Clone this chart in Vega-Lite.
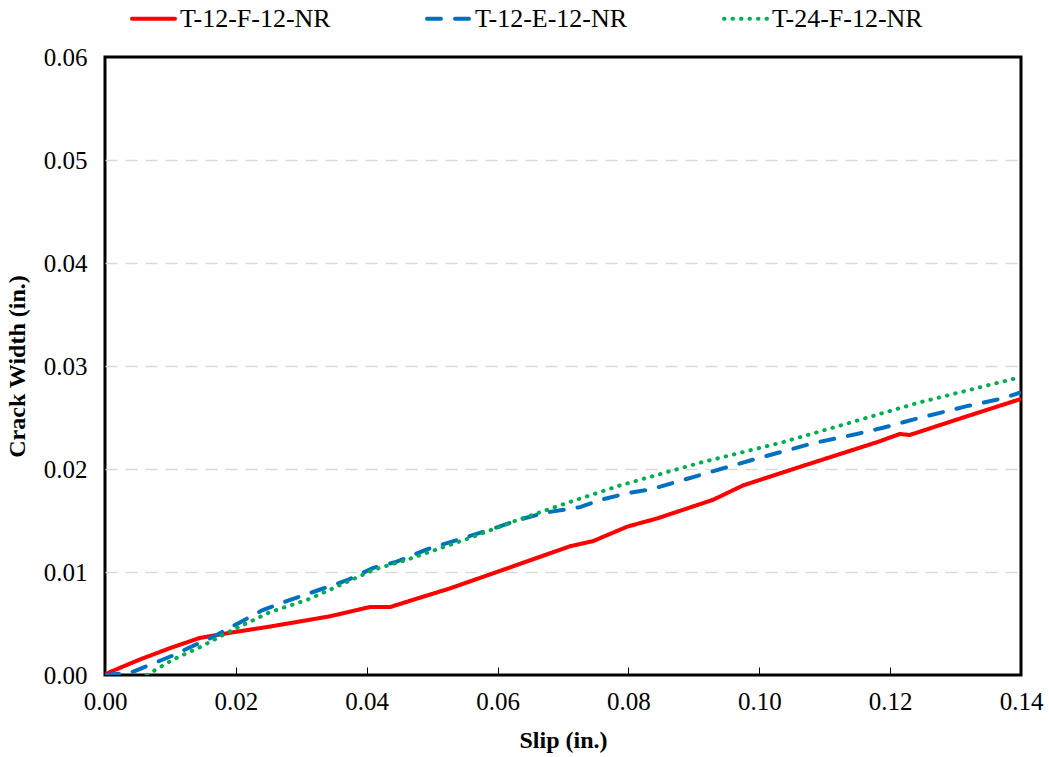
{
  "$schema": "https://vega.github.io/schema/vega-lite/v6.json",
  "autosize": {"type": "none"},
  "width": 916,
  "height": 618,
  "padding": {"left": 105, "top": 57, "right": 28, "bottom": 82},
  "background": "white",
  "config": {
    "font": "Liberation Serif",
    "view": {"stroke": "black", "strokeWidth": 3},
    "axis": {"labelFont": "Liberation Serif", "labelFontSize": 25, "labelColor": "black", "titleFont": "Liberation Serif", "titleFontSize": 24, "titleFontWeight": "bold", "titleColor": "black", "domain": false}
  },
  "data": {"values": [
    {"s": "T-12-F-12-NR", "x": 0, "y": 0},
    {"s": "T-12-F-12-NR", "x": 0.0008, "y": 0.0003},
    {"s": "T-12-F-12-NR", "x": 0.0053, "y": 0.0015},
    {"s": "T-12-F-12-NR", "x": 0.0099, "y": 0.0026},
    {"s": "T-12-F-12-NR", "x": 0.0145, "y": 0.0036},
    {"s": "T-12-F-12-NR", "x": 0.0191, "y": 0.0041},
    {"s": "T-12-F-12-NR", "x": 0.0252, "y": 0.0047},
    {"s": "T-12-F-12-NR", "x": 0.0344, "y": 0.0057},
    {"s": "T-12-F-12-NR", "x": 0.0405, "y": 0.0066},
    {"s": "T-12-F-12-NR", "x": 0.0436, "y": 0.0066},
    {"s": "T-12-F-12-NR", "x": 0.0471, "y": 0.0073},
    {"s": "T-12-F-12-NR", "x": 0.0527, "y": 0.0084},
    {"s": "T-12-F-12-NR", "x": 0.0608, "y": 0.0102},
    {"s": "T-12-F-12-NR", "x": 0.0711, "y": 0.0125},
    {"s": "T-12-F-12-NR", "x": 0.0746, "y": 0.013},
    {"s": "T-12-F-12-NR", "x": 0.0798, "y": 0.0144},
    {"s": "T-12-F-12-NR", "x": 0.0844, "y": 0.0152},
    {"s": "T-12-F-12-NR", "x": 0.0929, "y": 0.017},
    {"s": "T-12-F-12-NR", "x": 0.0975, "y": 0.0184},
    {"s": "T-12-F-12-NR", "x": 0.1062, "y": 0.0202},
    {"s": "T-12-F-12-NR", "x": 0.118, "y": 0.0226},
    {"s": "T-12-F-12-NR", "x": 0.1215, "y": 0.0234},
    {"s": "T-12-F-12-NR", "x": 0.123, "y": 0.0233},
    {"s": "T-12-F-12-NR", "x": 0.1307, "y": 0.0249},
    {"s": "T-12-F-12-NR", "x": 0.14, "y": 0.0268},
    {"s": "T-12-E-12-NR", "x": 0, "y": 0},
    {"s": "T-12-E-12-NR", "x": 0.0038, "y": 0.0002},
    {"s": "T-12-E-12-NR", "x": 0.0069, "y": 0.001},
    {"s": "T-12-E-12-NR", "x": 0.0104, "y": 0.0019},
    {"s": "T-12-E-12-NR", "x": 0.013, "y": 0.0027},
    {"s": "T-12-E-12-NR", "x": 0.0165, "y": 0.0037},
    {"s": "T-12-E-12-NR", "x": 0.0206, "y": 0.0051},
    {"s": "T-12-E-12-NR", "x": 0.0241, "y": 0.0063},
    {"s": "T-12-E-12-NR", "x": 0.0283, "y": 0.0073},
    {"s": "T-12-E-12-NR", "x": 0.0329, "y": 0.0083},
    {"s": "T-12-E-12-NR", "x": 0.037, "y": 0.0092},
    {"s": "T-12-E-12-NR", "x": 0.041, "y": 0.0104},
    {"s": "T-12-E-12-NR", "x": 0.0446, "y": 0.011},
    {"s": "T-12-E-12-NR", "x": 0.0492, "y": 0.0122},
    {"s": "T-12-E-12-NR", "x": 0.0538, "y": 0.0131},
    {"s": "T-12-E-12-NR", "x": 0.0588, "y": 0.0141},
    {"s": "T-12-E-12-NR", "x": 0.0634, "y": 0.0151},
    {"s": "T-12-E-12-NR", "x": 0.0676, "y": 0.0158},
    {"s": "T-12-E-12-NR", "x": 0.0726, "y": 0.0163},
    {"s": "T-12-E-12-NR", "x": 0.0757, "y": 0.017},
    {"s": "T-12-E-12-NR", "x": 0.0802, "y": 0.0177},
    {"s": "T-12-E-12-NR", "x": 0.0833, "y": 0.018},
    {"s": "T-12-E-12-NR", "x": 0.0909, "y": 0.0194},
    {"s": "T-12-E-12-NR", "x": 0.099, "y": 0.0209},
    {"s": "T-12-E-12-NR", "x": 0.1036, "y": 0.0217},
    {"s": "T-12-E-12-NR", "x": 0.1082, "y": 0.0225},
    {"s": "T-12-E-12-NR", "x": 0.1149, "y": 0.0234},
    {"s": "T-12-E-12-NR", "x": 0.1189, "y": 0.024},
    {"s": "T-12-E-12-NR", "x": 0.1241, "y": 0.0249},
    {"s": "T-12-E-12-NR", "x": 0.1317, "y": 0.0261},
    {"s": "T-12-E-12-NR", "x": 0.1368, "y": 0.0268},
    {"s": "T-12-E-12-NR", "x": 0.1398, "y": 0.0274},
    {"s": "T-24-F-12-NR", "x": 0.0064, "y": 0},
    {"s": "T-24-F-12-NR", "x": 0.0104, "y": 0.0015},
    {"s": "T-24-F-12-NR", "x": 0.0145, "y": 0.0027},
    {"s": "T-24-F-12-NR", "x": 0.0196, "y": 0.0044},
    {"s": "T-24-F-12-NR", "x": 0.0252, "y": 0.0061},
    {"s": "T-24-F-12-NR", "x": 0.0309, "y": 0.0073},
    {"s": "T-24-F-12-NR", "x": 0.0348, "y": 0.0084},
    {"s": "T-24-F-12-NR", "x": 0.041, "y": 0.0102},
    {"s": "T-24-F-12-NR", "x": 0.0462, "y": 0.0112},
    {"s": "T-24-F-12-NR", "x": 0.0553, "y": 0.0132},
    {"s": "T-24-F-12-NR", "x": 0.0624, "y": 0.0149},
    {"s": "T-24-F-12-NR", "x": 0.0706, "y": 0.0167},
    {"s": "T-24-F-12-NR", "x": 0.0787, "y": 0.0184},
    {"s": "T-24-F-12-NR", "x": 0.0909, "y": 0.0206},
    {"s": "T-24-F-12-NR", "x": 0.1036, "y": 0.0226},
    {"s": "T-24-F-12-NR", "x": 0.1139, "y": 0.0245},
    {"s": "T-24-F-12-NR", "x": 0.1241, "y": 0.0264},
    {"s": "T-24-F-12-NR", "x": 0.1398, "y": 0.0289}
  ]},
  "mark": {"type": "line", "strokeWidth": 4, "strokeCap": "round", "clip": true},
  "encoding": {
    "x": {"field": "x", "type": "quantitative", "title": "Slip (in.)",
      "scale": {"domain": [0, 0.14], "nice": false},
      "axis": {"values": [0, 0.02, 0.04, 0.06, 0.08, 0.1, 0.12, 0.14], "format": ".2f", "grid": false, "labelFlush": false, "ticks": true, "tickSize": -8, "tickColor": "black", "tickWidth": 1, "labelPadding": 22, "titlePadding": 14}},
    "y": {"field": "y", "type": "quantitative", "title": "Crack Width (in.)",
      "scale": {"domain": [0, 0.06], "nice": false},
      "axis": {"values": [0, 0.01, 0.02, 0.03, 0.04, 0.05, 0.06], "format": ".2f", "grid": true, "gridColor": {"condition": {"test": "datum.value >= 0.059 || datum.value <= 0.001", "value": "transparent"}, "value": "#d9d9d9"}, "gridDash": [12, 8], "gridWidth": 1.5, "ticks": false, "labelPadding": 18, "titlePadding": 14}},
    "color": {"field": "s", "type": "nominal", "title": null,
      "scale": {"domain": ["T-12-F-12-NR", "T-12-E-12-NR", "T-24-F-12-NR"], "range": ["#ff0000", "#0070c0", "#00b050"]},
      "legend": {"orient": "none", "legendX": 25, "legendY": -62, "direction": "horizontal", "columns": 3, "columnPadding": 88, "symbolType": "stroke", "symbolSize": 1849, "symbolStrokeWidth": 4, "labelFontSize": 26, "labelFont": "Liberation Serif", "labelColor": "black", "labelOffset": 3, "labelLimit": 300,
        "encode": {"symbols": {"update": {"strokeCap": {"value": "round"}}}}}},
    "strokeDash": {"field": "s", "type": "nominal",
      "scale": {"domain": ["T-12-F-12-NR", "T-12-E-12-NR", "T-24-F-12-NR"], "range": [[1, 0], [14, 14], [0.5, 8]]}}
  }
}
